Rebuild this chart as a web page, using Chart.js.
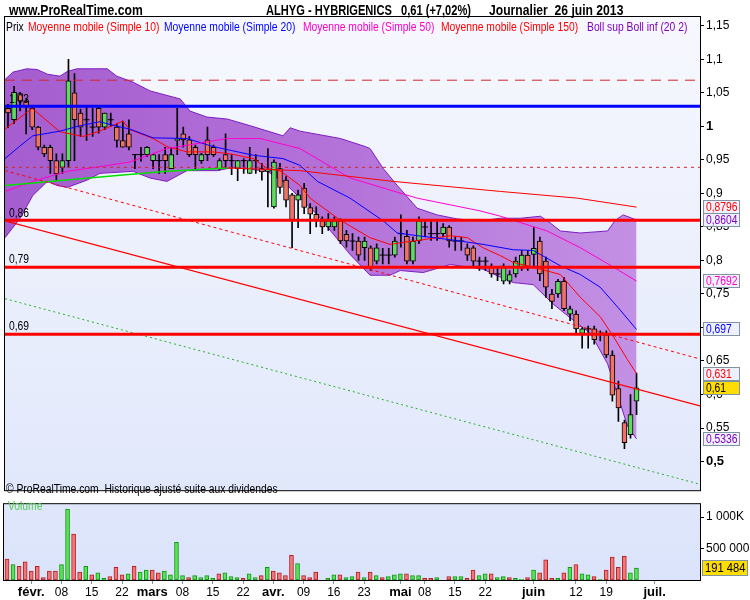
<!DOCTYPE html>
<html lang="fr">
<head>
<meta charset="UTF-8" />
<title>ALHYG - HYBRIGENICS - Journalier</title>
<script src="https://cdn.jsdelivr.net/npm/chart.js"></script>
<style>
  body { margin: 0; width: 750px; height: 600px; position: relative; overflow: hidden; background: #fff;
         font-family: 'Liberation Sans', Arial, sans-serif; }
  .box { position: absolute; }
  .txt { position: absolute; white-space: pre; z-index: 2; line-height: 14px; transform-origin: 0 0; }
  .hdr { font-weight: bold; font-size: 15px; top: 2px; line-height: 16px; transform: scaleX(0.81); }
  .hdr2 { transform: scaleX(0.74); }
  .leg { font-size: 12px; top: 20px; transform: scaleX(0.86); }
  .sm { font-size: 12px; transform: scaleX(0.86); }
</style>
</head>
<body>
  <div class="box" style="left:0;top:0"><canvas id="priceChart" width="750" height="500"></canvas></div>
  <div class="box" style="left:0;top:495px"><canvas id="volChart" width="750" height="105"></canvas></div>

  <div class="txt hdr" style="left:9px">www.ProRealTime.com</div>
  <div class="txt hdr hdr2" style="left:266px">ALHYG - HYBRIGENICS</div>
  <div class="txt hdr hdr2" style="left:401px">0,61 (+7,02%)</div>
  <div class="txt hdr" style="left:489px">Journalier  26 juin 2013</div>

  <div class="txt leg" style="left:6px;color:#000">Prix</div>
  <div class="txt leg" style="left:28px;color:#ff0000">Moyenne mobile (Simple 10)</div>
  <div class="txt leg" style="left:164px;color:#0000ff">Moyenne mobile (Simple 20)</div>
  <div class="txt leg" style="left:303px;color:#ff00cc">Moyenne mobile (Simple 50)</div>
  <div class="txt leg" style="left:441px;color:#ff0000">Moyenne mobile (Simple 150)</div>
  <div class="txt leg" style="left:587px;color:#8000c0">Boll sup Boll inf (20 2)</div>

  <div class="txt sm" style="left:6px;top:482px">© ProRealTime.com  Historique ajusté suite aux dividendes</div>
  <div class="txt sm" style="left:8px;top:499px;color:#55cc55">Volume</div>

<script>
  // trading days (dd/mm), last 10 are empty future days
  const days = [
    '28/01','29/01','30/01','31/01',
    '01/02','04/02','05/02','06/02','07/02','08/02','11/02','12/02','13/02','14/02','15/02','18/02','19/02','20/02','21/02','22/02','25/02','26/02','27/02','28/02',
    '01/03','04/03','05/03','06/03','07/03','08/03','11/03','12/03','13/03','14/03','15/03','18/03','19/03','20/03','21/03','22/03','25/03','26/03','27/03','28/03',
    '02/04','03/04','04/04','05/04','08/04','09/04','10/04','11/04','12/04','15/04','16/04','17/04','18/04','19/04','22/04','23/04','24/04','25/04','26/04','29/04','30/04',
    '02/05','03/05','06/05','07/05','08/05','09/05','10/05','13/05','14/05','15/05','16/05','17/05','20/05','21/05','22/05','23/05','24/05','27/05','28/05','29/05','30/05','31/05',
    '03/06','04/06','05/06','06/06','07/06','10/06','11/06','12/06','13/06','14/06','17/06','18/06','19/06','20/06','21/06','24/06','25/06','26/06',
    '27/06','28/06','01/07','02/07','03/07','04/07','05/07','08/07','09/07','10/07'
  ];
  const dayTicks = {
    '01/02': 'févr.', '08/02': '08', '15/02': '15', '22/02': '22',
    '01/03': 'mars', '08/03': '08', '15/03': '15', '22/03': '22',
    '02/04': 'avr.', '09/04': '09', '16/04': '16', '23/04': '23',
    '02/05': 'mai', '08/05': '08', '15/05': '15', '22/05': '22',
    '03/06': 'juin', '12/06': '12', '19/06': '19', '01/07': 'juil.'
  };
  const months = ['févr.', 'mars', 'avr.', 'mai', 'juin', 'juil.'];

  const open = [1.027,1.010,1.049,1.038,1.027,0.999,0.969,0.969,0.949,0.939,0.949,1.050,1.020,1.010,0.999,1.027,0.999,1.010,0.999,0.979,
    0.989,0.958,0.958,0.958,0.949,0.949,0.958,0.937,0.979,0.989,0.980,0.969,0.949,0.980,0.969,0.937,0.958,0.949,0.937,0.949,
    0.930,0.949,0.937,0.933,0.880,0.937,0.920,0.898,0.890,0.908,0.879,0.869,0.859,0.850,0.850,0.859,0.839,0.829,0.829,0.819,
    0.819,0.799,0.808,0.808,0.808,0.840,0.836,0.799,0.829,0.850,0.840,0.840,0.840,0.850,0.829,0.829,0.819,0.819,0.799,0.799,
    0.790,0.780,0.769,0.769,0.780,0.790,0.808,0.809,0.829,0.799,0.750,0.750,0.769,0.720,0.720,0.691,0.698,0.698,0.690,0.689,
    0.659,0.609,0.558,0.540,0.590];
  const high = [1.033,1.060,1.051,1.040,1.030,1.000,0.972,0.972,0.959,0.959,1.100,1.079,1.026,1.029,1.027,1.029,1.020,1.020,1.004,1.008,
    1.010,0.958,0.969,0.970,0.958,0.958,0.969,0.969,1.027,0.999,0.985,0.972,0.960,0.999,0.972,0.952,0.989,0.958,0.949,0.952,
    0.969,0.958,0.945,0.967,0.950,0.945,0.925,0.900,0.905,0.915,0.885,0.880,0.865,0.870,0.865,0.862,0.845,0.840,0.835,0.835,
    0.822,0.825,0.818,0.818,0.835,0.868,0.845,0.835,0.865,0.860,0.860,0.860,0.855,0.852,0.835,0.835,0.825,0.822,0.805,0.805,
    0.795,0.790,0.795,0.785,0.805,0.815,0.815,0.849,0.835,0.805,0.757,0.772,0.775,0.732,0.725,0.700,0.702,0.702,0.695,0.695,
    0.665,0.620,0.562,0.600,0.632];
  const low = [0.998,1.004,1.023,0.989,0.995,0.965,0.955,0.930,0.920,0.930,0.939,0.949,0.985,0.979,0.985,0.990,0.995,1.000,0.969,0.969,
    0.965,0.937,0.948,0.955,0.937,0.930,0.930,0.937,0.958,0.969,0.955,0.937,0.945,0.949,0.955,0.935,0.937,0.928,0.919,0.930,
    0.930,0.930,0.920,0.880,0.878,0.900,0.880,0.819,0.849,0.870,0.840,0.850,0.840,0.845,0.845,0.825,0.820,0.815,0.800,0.800,
    0.785,0.795,0.795,0.795,0.805,0.820,0.795,0.795,0.825,0.835,0.830,0.830,0.835,0.820,0.815,0.815,0.800,0.790,0.785,0.785,
    0.775,0.770,0.765,0.765,0.775,0.785,0.785,0.790,0.770,0.745,0.728,0.745,0.725,0.710,0.690,0.669,0.669,0.675,0.680,0.655,
    0.590,0.560,0.519,0.535,0.570];
  const close = [1.020,1.051,1.038,1.031,0.999,0.969,0.959,0.949,0.929,0.949,1.068,1.010,0.999,1.010,0.999,0.999,1.020,1.010,0.979,0.969,
    0.969,0.958,0.958,0.969,0.958,0.949,0.949,0.958,0.981,0.980,0.958,0.958,0.958,0.958,0.958,0.949,0.949,0.949,0.949,0.949,
    0.949,0.949,0.932,0.935,0.947,0.909,0.890,0.861,0.898,0.879,0.869,0.859,0.850,0.859,0.859,0.829,0.829,0.829,0.808,0.829,
    0.790,0.819,0.808,0.808,0.829,0.840,0.799,0.829,0.859,0.850,0.840,0.840,0.850,0.829,0.829,0.829,0.808,0.799,0.799,0.799,
    0.780,0.780,0.790,0.779,0.799,0.808,0.790,0.818,0.780,0.760,0.739,0.769,0.728,0.728,0.698,0.698,0.698,0.682,0.690,0.659,
    0.599,0.580,0.528,0.570,0.610];

  // volume in thousands, colour of each bar (1 = up / green)
  const volumeK = [333,245,216,289,142,216,39,142,142,245,1127,730,127,216,83,113,25,54,200,83,
    98,216,127,157,157,113,142,83,598,69,39,69,39,69,25,98,113,54,39,25,
    98,39,69,200,142,113,69,392,260,69,39,127,0,25,83,83,39,54,127,39,
    127,69,39,54,83,98,98,69,69,25,25,39,0,54,54,54,25,157,69,98,
    98,39,54,39,25,10,39,157,113,319,25,25,113,200,245,98,83,54,10,157,
    363,200,377,113,191.484];
  const volumeUp = [0,1,0,0,0,0,0,0,0,1,1,0,0,1,0,1,1,0,0,0,
    1,0,1,1,0,0,1,1,1,1,0,1,1,1,1,0,1,1,1,0,
    1,1,0,1,0,0,0,0,1,0,0,0,0,1,1,0,1,1,0,1,
    0,1,0,1,1,1,0,1,1,0,0,1,0,0,1,1,0,0,1,1,
    0,1,1,0,1,1,0,1,0,0,0,1,0,1,0,1,1,0,1,0,
    0,0,0,1,1];

  // indicators as [day index, price]
  const ma10 = [[-0.5,0.996],[4,1.027],[8.6,0.992],[12.4,0.985],[15.2,0.993],[19,1.008],[20.2,0.995],[24,0.982],[26.3,0.970],
    [29.6,0.962],[33.9,0.962],[36.8,0.959],[40.6,0.952],[42.9,0.937],[45,0.934],[48.3,0.912],[50,0.893],[55,0.860],[59.9,0.834],
    [63.2,0.824],[65.4,0.827],[68.7,0.831],[73.2,0.837],[76,0.834],[78.6,0.819],[81.5,0.807],[83.6,0.797],[86.9,0.790],
    [91.4,0.779],[94.7,0.745],[98,0.716],[100.2,0.686],[102.5,0.652],[104,0.631]];
  const ma20 = [[-0.5,0.952],[2,0.971],[4.1,0.986],[8.6,0.993],[11.9,1.001],[15.2,1.007],[17.7,1.001],[20.2,0.996],[24,0.983],
    [29.6,0.982],[33.9,0.970],[40.6,0.957],[45.5,0.952],[48.3,0.942],[51.2,0.918],[56.6,0.893],[62.1,0.859],[64.4,0.841],
    [67.7,0.837],[73.2,0.831],[78.6,0.824],[83.6,0.816],[86.9,0.815],[91.4,0.792],[94.7,0.779],[98,0.760],[101.3,0.726],[104,0.697]];
  const ma50 = [[-0.5,0.903],[4.1,0.918],[9.8,0.933],[15.2,0.940],[20.2,0.947],[26.3,0.967],[36.3,0.982],[41.7,0.982],[48.3,0.967],
    [56.6,0.923],[67.7,0.893],[78.1,0.874],[81.5,0.866],[89.2,0.844],[94.7,0.819],[100.2,0.790],[104,0.7692]];
  const ma150Rise = [[-0.5,0.912],[18.5,0.927],[26.3,0.933],[36.3,0.938]];
  const ma150 = [[36.3,0.938],[48.3,0.934],[63.7,0.918],[81.5,0.903],[94.2,0.893],[104,0.8796]];
  const bollUp = [[-0.5,1.070],[0.8,1.081],[3.1,1.086],[4.8,1.085],[6.5,1.078],[8.6,1.075],[9.8,1.082],[11.4,1.086],[16.4,1.086],
    [18,1.075],[20.7,1.066],[23.5,1.053],[28.5,1.041],[30.1,1.023],[32.9,1.014],[36.3,1.011],[40.1,1.001],[45.5,0.986],
    [46.7,0.998],[48.3,0.993],[55,0.982],[59.1,0.970],[59.9,0.967],[62.1,0.937],[64.4,0.912],[67.7,0.878],[71,0.868],
    [74.3,0.862],[78.1,0.859],[81.5,0.863],[84.8,0.863],[88.1,0.866],[89.7,0.856],[91.4,0.844],[94.7,0.841],[99.2,0.844],
    [100.5,0.860],[101.8,0.868],[104,0.8604]];
  const bollLow = [[-0.5,0.834],[2,0.863],[4.1,0.897],[6.5,0.918],[8.1,0.912],[9.8,0.909],[13.1,0.920],[15.2,0.930],[20.7,0.933],
    [23.5,0.923],[26.3,0.918],[29.6,0.934],[34.6,0.934],[37.3,0.939],[42.9,0.933],[45.5,0.918],[51.2,0.868],[56.6,0.809],
    [59.9,0.778],[63.2,0.778],[64.9,0.785],[68.7,0.782],[73.2,0.794],[78.6,0.787],[81.5,0.775],[83.6,0.767],[86.9,0.764],
    [90.2,0.735],[93.5,0.711],[96.4,0.691],[99.2,0.646],[101.3,0.587],[102.5,0.553],[104,0.5336]];

  // drawn support / trend lines: [start index, price, end index, price]
  const trendRed = [-0.5, 0.859, 114.5, 0.583];
  const trendRedDash = [-0.5, 0.934, 114.5, 0.653];
  const trendGreen = [-0.5, 0.743, 114.5, 0.466];
  const levelsBlue = [1.03];
  const levelsRed = [0.86, 0.79, 0.69];
  const levelTop = 1.069;
  const levelMid = 0.939;

  const priceTicks = [0.5,0.55,0.6,0.65,0.7,0.75,0.8,0.85,0.9,0.95,1,1.05,1.1,1.15];
  const lastValues = [0.8796, 0.8604, 0.7692, 0.697, 0.631, 0.61, 0.5336];
  const lastColors = ['#ff0000', '#8000c0', '#ff00cc', '#0000ff', '#ff0000', '#000000', '#8000c0'];
  const lastVolume = 191484;

  Chart.defaults.font.family = "'Liberation Sans', Arial, sans-serif";
  Chart.defaults.color = '#000';

  const comma = v => String(v).replace('.', ',');
  const pts = arr => arr.map(([x, y]) => ({ x, y }));
  const seg = s => [{ x: s[0], y: s[1] }, { x: s[2], y: s[3] }];
  const flat = y => [{ x: -0.5, y }, { x: 114.5, y }];

  const isDoji = i => Math.abs(open[i] - close[i]) < 0.002;
  const bodies = open.map((o, i) => isDoji(i) ? null : [Math.min(o, close[i]), Math.max(o, close[i])]);
  const bodyColors = open.map((o, i) => close[i] >= o ? '#5ddc5d' : '#ef7267');
  const wicks = low.map((l, i) => [l, high[i]]);
  const dojis = close.map((c, i) => isDoji(i) ? { x: i, y: c } : null).filter(Boolean);

  // panel background and frame
  const panel = {
    id: 'panel',
    beforeDraw(chart, args, o) {
      const { ctx, chartArea: a } = chart;
      const g = ctx.createLinearGradient(0, a.top, 0, a.bottom);
      g.addColorStop(0, o.top);
      g.addColorStop(1, o.bottom);
      ctx.save();
      ctx.fillStyle = g;
      ctx.fillRect(a.left, a.top, a.right - a.left, a.bottom - a.top);
      ctx.restore();
    },
    afterDraw(chart) {
      const { ctx, chartArea: a } = chart;
      ctx.save();
      ctx.strokeStyle = '#000';
      ctx.lineWidth = 1;
      ctx.strokeRect(a.left - 0.5, a.top - 0.5, a.right - a.left + 1, a.bottom - a.top + 1);
      ctx.restore();
    }
  };

  // narrow text helper for canvas labels
  const narrowText = (ctx, text, x, y) => {
    ctx.save();
    ctx.translate(x, y);
    ctx.scale(0.86, 1);
    ctx.fillText(text, 0, 0);
    ctx.restore();
  };

  // labels on the left of the levels and value boxes on the right axis
  const priceMarks = {
    id: 'priceMarks',
    afterDraw(chart) {
      const { ctx, scales: { y }, chartArea: a } = chart;
      ctx.save();
      ctx.font = "12px 'Liberation Sans', Arial";
      ctx.fillStyle = '#000';
      ctx.textBaseline = 'bottom';
      levelsBlue.concat(levelsRed).forEach(v => narrowText(ctx, comma(v), a.left + 4, y.getPixelForValue(v) - 1));
      ctx.textBaseline = 'middle';
      lastValues.forEach((v, i) => {
        const py = Math.round(y.getPixelForValue(v));
        ctx.fillStyle = v === 0.61 ? '#ffdd00' : '#eef1fb';
        ctx.fillRect(703.5, py - 6.5, 36, 13);
        ctx.strokeStyle = '#7f93a3';
        ctx.strokeRect(703.5, py - 6.5, 36, 13);
        ctx.fillStyle = lastColors[i];
        narrowText(ctx, comma(v), 706, py + 0.5);
      });
      ctx.restore();
    }
  };

  const volMarks = {
    id: 'volMarks',
    afterDraw(chart) {
      const { ctx, scales: { y } } = chart;
      const py = Math.round(y.getPixelForValue(lastVolume));
      ctx.save();
      ctx.fillStyle = '#ffdd00';
      ctx.fillRect(702.5, py - 7.5, 45, 15);
      ctx.strokeStyle = '#7f93a3';
      ctx.strokeRect(702.5, py - 7.5, 45, 15);
      ctx.fillStyle = '#000';
      ctx.font = "13px 'Liberation Sans', Arial";
      ctx.textBaseline = 'middle';
      narrowText(ctx, '191 484', 705, py + 0.5);
      ctx.restore();
    }
  };

  const line = (data, color, extra = {}) => Object.assign({
    type: 'line', xAxisID: 'xn', data, borderColor: color, borderWidth: 1,
    pointRadius: 0, fill: false, tension: 0, order: 10
  }, extra);

  const bandFill = c => {
    const a = c.chart.chartArea;
    if (!a) return 'rgba(170,100,215,0.85)';
    const g = c.chart.ctx.createLinearGradient(a.left, 0, a.right, 0);
    g.addColorStop(0, '#a55dcf');
    g.addColorStop(0.5, '#b473d9');
    g.addColorStop(1, '#c697e7');
    return g;
  };

  new Chart(document.getElementById('priceChart'), {
    type: 'bar',
    data: {
      labels: days,
      datasets: [
        line(pts(bollUp), '#7d1cc4', { fill: '+1', backgroundColor: bandFill, order: 100 }),
        line(pts(bollLow), '#7d1cc4', { order: 99 }),
        { type: 'bar', xAxisID: 'x', data: wicks, backgroundColor: '#000', barThickness: 1,
          grouped: false, order: 50 },
        { type: 'bar', xAxisID: 'x', data: bodies, backgroundColor: bodyColors, borderColor: '#000',
          borderWidth: 1, borderSkipped: false, barThickness: 5, grouped: false, order: 40 },
        line(dojis, '#000', { showLine: false, pointRadius: 3, pointStyle: 'line', pointBorderColor: '#000',
          pointBorderWidth: 1, order: 39 }),
        line(pts(ma150Rise), '#00e000', { borderWidth: 1.5 }),
        line(pts(ma150), '#ff0000'),
        line(pts(ma50), '#ff00cc'),
        line(pts(ma20), '#0000ff'),
        line(pts(ma10), '#ff0000'),
        line(seg(trendRed), '#ff0000', { order: 5, borderWidth: 1.2 }),
        line(seg(trendRedDash), '#ff0000', { order: 5, borderDash: [3, 3] }),
        line(seg(trendGreen), '#22b022', { order: 5, borderDash: [2, 3] }),
        line(flat(levelTop), '#d02828', { order: 5, borderDash: [10, 7] }),
        line(flat(levelMid), '#d02828', { order: 5, borderDash: [3, 4] }),
        ...levelsBlue.map(v => line(flat(v), '#0000ff', { borderWidth: 3, order: 2 })),
        ...levelsRed.map(v => line(flat(v), '#ff0000', { borderWidth: 3, order: 2 }))
      ]
    },
    options: {
      responsive: false,
      animation: false,
      events: [],
      layout: { padding: { left: 4, top: 17, bottom: 5, right: 0 } },
      plugins: { legend: { display: false }, tooltip: { enabled: false },
                 panel: { top: '#f7f8fe', bottom: '#e1e8fb' } },
      scales: {
        x: { type: 'category', display: false, offset: true },
        xn: { type: 'linear', display: false, offset: false, min: -0.5, max: 114.5 },
        y: {
          position: 'right', min: 0.4572, max: 1.1633,
          afterBuildTicks: s => { s.ticks = priceTicks.map(value => ({ value })); },
          afterFit: s => { s.width = 50; },
          border: { display: true, color: '#000' },
          grid: { drawOnChartArea: false, tickLength: 4, tickColor: '#000' },
          ticks: {
            autoSkip: false, padding: 2, color: '#000',
            font: c => (c.tick && (c.tick.value === 1 || c.tick.value === 0.5))
              ? { size: 13, weight: 'bold' } : { size: 12 },
            callback: v => comma(v)
          }
        }
      }
    },
    plugins: [panel, priceMarks]
  });

  const tickIdx = days.map((d, i) => dayTicks[d] ? i : -1).filter(i => i >= 0);

  new Chart(document.getElementById('volChart'), {
    type: 'bar',
    data: {
      labels: days,
      datasets: [{
        data: volumeK.map(v => v * 1000),
        backgroundColor: volumeUp.map(u => u ? '#5ae05a' : '#f07878'),
        borderColor: volumeUp.map(u => u ? '#119911' : '#b52020'),
        borderWidth: 1, borderSkipped: false, barThickness: 4
      }]
    },
    options: {
      responsive: false,
      animation: false,
      events: [],
      layout: { padding: { left: 4, top: 3, bottom: 0, right: 0 } },
      plugins: { legend: { display: false }, tooltip: { enabled: false },
                 panel: { top: '#e0e7fb', bottom: '#dae3fb' } },
      scales: {
        x: {
          offset: true,
          afterBuildTicks: s => { s.ticks = tickIdx.map(value => ({ value })); },
          afterFit: s => { s.height = 20; },
          border: { display: true, color: '#000' },
          grid: { drawOnChartArea: false, offset: false, tickLength: 4, tickColor: '#7f93a3' },
          ticks: {
            autoSkip: false, maxRotation: 0, padding: 1, color: '#000',
            font: c => months.includes(dayTicks[days[c.tick ? c.tick.value : 0]])
              ? { size: 13, weight: 'bold' } : { size: 12 },
            callback: v => dayTicks[days[v]]
          }
        },
        y: {
          position: 'right', min: 0, max: 1206000,
          afterBuildTicks: s => { s.ticks = [500000, 1000000].map(value => ({ value })); },
          afterFit: s => { s.width = 50; },
          border: { display: true, color: '#000' },
          grid: { drawOnChartArea: false, tickLength: 4, tickColor: '#000' },
          ticks: { padding: 2, color: '#000', font: { size: 12 },
                   callback: v => v === 1000000 ? '1 000K' : '500 000' }
        }
      }
    },
    plugins: [panel, volMarks]
  });
</script>
</body>
</html>
